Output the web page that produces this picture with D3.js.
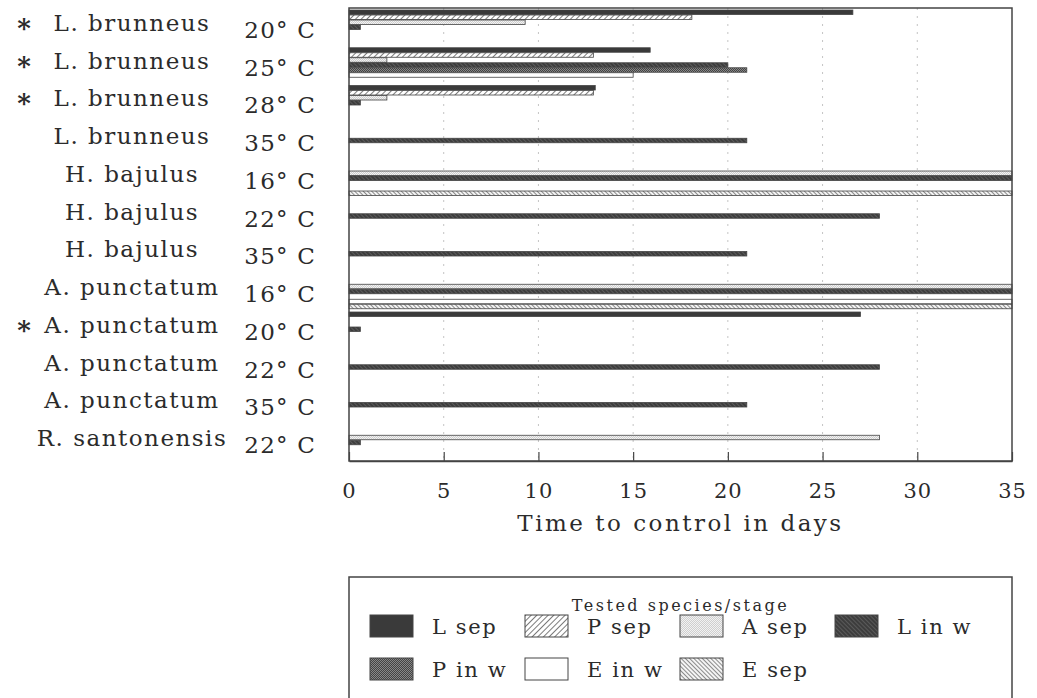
<!DOCTYPE html>
<html>
<head>
<meta charset="utf-8">
<script src="https://cdn.jsdelivr.net/npm/d3@7"></script>
<style>
  body { margin: 0; background: #fff; }
  text { font-family: "DejaVu Serif", serif; fill: #2b2b2b; }
</style>
</head>
<body>
<div id="chart"></div>
<script>
// Chart data
var species = ["L. brunneus", "L. brunneus", "L. brunneus", "L. brunneus",
    "H. bajulus", "H. bajulus", "H. bajulus",
    "A. punctatum", "A. punctatum", "A. punctatum", "A. punctatum",
    "R. santonensis"];
var temps = [20, 25, 28, 35, 16, 22, 35, 16, 20, 22, 35, 22];
var starred = [true, true, true, false, false, false, false, false, true, false, false, false];

var seriesNames = ["L sep", "P sep", "A sep", "L in w", "P in w", "E in w", "E sep"];

// days per series, one value per category row (0 = no bar)
var lSep = [26.6, 15.9, 13.0, 0, 0, 0, 0, 0, 27.0, 0, 0, 0];
var pSep = [18.1, 12.9, 12.9, 0, 0, 0, 0, 0, 0, 0, 0, 0];
var aSep = [9.3, 2.0, 2.0, 0, 35, 0, 0, 35, 0, 0, 0, 28];
var lInW = [0.6, 20, 0.6, 21, 35, 28, 21, 35, 0.6, 28, 21, 0.6];
var pInW = [0, 21, 0, 0, 0, 0, 0, 0, 0, 0, 0, 0];
var eInW = [0, 15, 0, 0, 0, 0, 0, 35, 0, 0, 0, 0];
var eSep = [0, 0, 0, 0, 35, 0, 0, 35, 0, 0, 0, 0];

var xTicks = [0, 5, 10, 15, 20, 25, 30, 35];

var seriesValues = [lSep, pSep, aSep, lInW, pInW, eInW, eSep];

// set up svg
var svgWidth = 1037;
var svgHeight = 698;
var margin = { top: 8, right: 25, bottom: 237, left: 349 };
var width = svgWidth - margin.left - margin.right;
var height = svgHeight - margin.top - margin.bottom;

var svg = d3.select("#chart").append("svg")
    .attr("width", svgWidth)
    .attr("height", svgHeight);

// fill patterns
var defs = svg.append("defs");

function hatch(id, bg, line, lw, size, angle) {
    var p = defs.append("pattern")
        .attr("id", id)
        .attr("patternUnits", "userSpaceOnUse")
        .attr("width", size)
        .attr("height", size)
        .attr("patternTransform", `rotate(${angle})`);
    p.append("rect").attr("width", size).attr("height", size).attr("fill", bg);
    p.append("line")
        .attr("x1", 0).attr("y1", 0).attr("x2", 0).attr("y2", size)
        .attr("stroke", line).attr("stroke-width", lw);
}

function dots(id, bg, dot, size) {
    var p = defs.append("pattern")
        .attr("id", id)
        .attr("patternUnits", "userSpaceOnUse")
        .attr("width", size)
        .attr("height", size);
    p.append("rect").attr("width", size).attr("height", size).attr("fill", bg);
    p.append("rect").attr("width", size / 2).attr("height", size / 2).attr("fill", dot);
    p.append("rect").attr("x", size / 2).attr("y", size / 2)
        .attr("width", size / 2).attr("height", size / 2).attr("fill", dot);
}

hatch("pSep", "#fff", "#333", 1.3, 4, 45);
dots("aSep", "#f2f2f2", "#cfcfcf", 2);
hatch("lInW", "#3d3d3d", "#777", 1, 3, -45);
dots("pInW", "#444", "#888", 2);
hatch("eSep", "#f4f4f4", "#333", 1.1, 3, -45);

var fills = ["#3a3a3a", "url(#pSep)", "url(#aSep)", "url(#lInW)", "url(#pInW)", "#fff", "url(#eSep)"];

var chartGroup = svg.append("g")
    .attr("transform", `translate(${margin.left}, ${margin.top})`);

// scales
var xScale = d3.scaleLinear()
    .domain([0, 35])
    .range([0, width]);

var yScale = d3.scaleBand()
    .domain(d3.range(species.length))
    .range([0, height]);

var subScale = d3.scaleBand()
    .domain(seriesNames)
    .range([0, yScale.bandwidth()])
    .paddingOuter(0.275)
    .align(0.73);

// dotted grid lines
chartGroup.append("g")
    .selectAll("line")
    .data(xTicks.slice(1, -1))
    .enter()
    .append("line")
    .attr("x1", d => xScale(d))
    .attr("x2", d => xScale(d))
    .attr("y1", 0)
    .attr("y2", height)
    .attr("stroke", "#c4c4c4")
    .attr("stroke-dasharray", "2,6");

// bars
var rows = [];
species.forEach(function (s, i) {
    seriesNames.forEach(function (name, j) {
        if (seriesValues[j][i] > 0) {
            rows.push({ row: i, series: name, idx: j, value: seriesValues[j][i] });
        }
    });
});

chartGroup.selectAll(".bar")
    .data(rows)
    .enter()
    .append("rect")
    .classed("bar", true)
    .attr("x", 0)
    .attr("y", d => yScale(d.row) + subScale(d.series))
    .attr("width", d => xScale(d.value))
    .attr("height", subScale.bandwidth() - 0.5)
    .attr("fill", d => fills[d.idx])
    .attr("stroke", "#444")
    .attr("stroke-width", 0.8);

// frame
chartGroup.append("rect")
    .attr("width", width)
    .attr("height", height)
    .attr("fill", "none")
    .attr("stroke", "#444")
    .attr("stroke-width", 1.5);

// bottom axis with inward ticks
var bottomAxis = d3.axisBottom(xScale)
    .tickValues(xTicks)
    .tickSizeInner(-9)
    .tickSizeOuter(0)
    .tickPadding(22);

var xAxisG = chartGroup.append("g")
    .attr("transform", `translate(0, ${height})`)
    .call(bottomAxis);
xAxisG.select(".domain").attr("stroke", "#444").attr("stroke-width", 1.5);
xAxisG.selectAll(".tick line").attr("stroke", "#444").attr("stroke-width", 1.2);
xAxisG.selectAll(".tick text")
    .attr("font-family", "DejaVu Serif, serif")
    .attr("font-size", "21px")
    .attr("letter-spacing", "1px")
    .attr("fill", "#2b2b2b");

chartGroup.append("text")
    .attr("x", width / 2)
    .attr("y", height + 70)
    .attr("text-anchor", "middle")
    .attr("font-size", "23px")
    .attr("letter-spacing", "2.5px")
    .text("Time to control in days");

// row labels
var labelG = svg.append("g");
species.forEach(function (s, i) {
    var cy = margin.top + yScale(i) + yScale.bandwidth() / 2;
    labelG.append("text")
        .attr("x", 132)
        .attr("y", cy + 4)
        .attr("text-anchor", "middle")
        .attr("font-size", "23px")
        .attr("letter-spacing", "1.5px")
        .text(s);
    labelG.append("text")
        .attr("x", 316)
        .attr("y", cy + 11)
        .attr("text-anchor", "end")
        .attr("font-size", "23px")
        .attr("letter-spacing", "1.2px")
        .text(temps[i] + "\u00b0 C");
    if (starred[i]) {
        labelG.append("text")
            .attr("x", 24)
            .attr("y", cy + 10)
            .attr("text-anchor", "middle")
            .attr("font-size", "26px")
            .attr("font-weight", "bold")
            .text("*");
    }
});

// legend
var legend = svg.append("g")
    .attr("transform", "translate(349, 577)");

legend.append("rect")
    .attr("width", width)
    .attr("height", 140)
    .attr("fill", "none")
    .attr("stroke", "#444")
    .attr("stroke-width", 1.5);

legend.append("text")
    .attr("x", width / 2)
    .attr("y", 34)
    .attr("text-anchor", "middle")
    .attr("font-size", "16px")
    .attr("letter-spacing", "2.5px")
    .text("Tested species/stage");

var legendItems = legend.selectAll(".item")
    .data(seriesNames)
    .enter()
    .append("g")
    .classed("item", true)
    .attr("transform", (d, i) => `translate(${21 + (i % 4) * 155}, ${i < 4 ? 38 : 81})`);

legendItems.append("rect")
    .attr("width", 43)
    .attr("height", 22)
    .attr("fill", (d, i) => fills[i])
    .attr("stroke", "#444")
    .attr("stroke-width", 1);

legendItems.append("text")
    .attr("x", 62)
    .attr("y", 19)
    .attr("font-size", "21px")
    .attr("letter-spacing", "1.6px")
    .text(d => d);
</script>
</body>
</html>
